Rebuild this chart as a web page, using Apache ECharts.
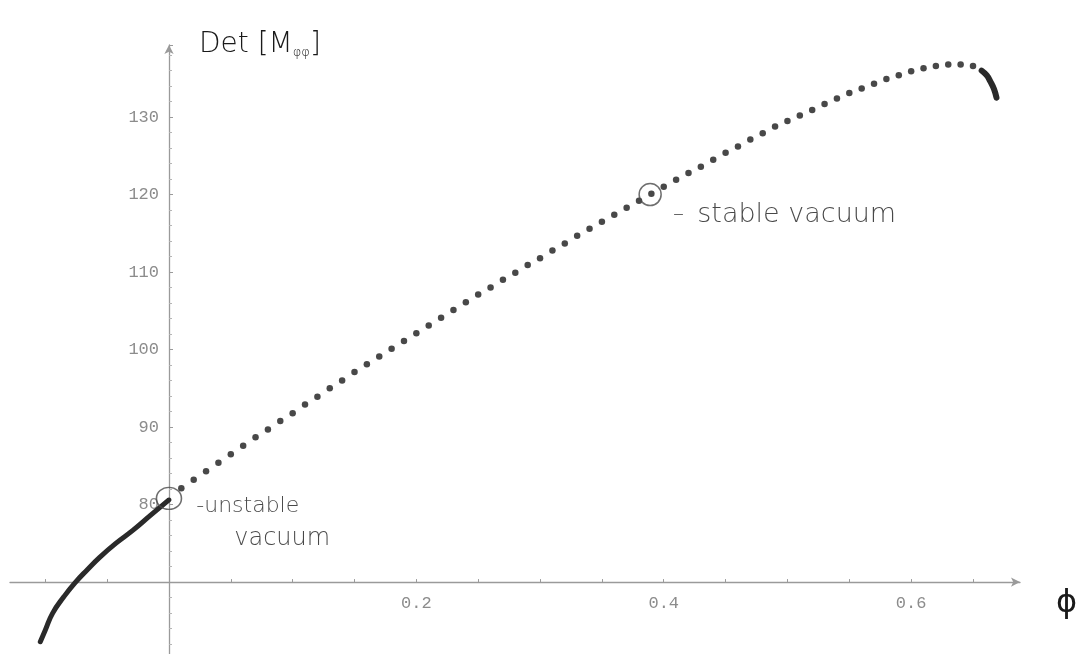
<!DOCTYPE html>
<html>
<head>
<meta charset="utf-8">
<script src="https://cdn.jsdelivr.net/npm/echarts@6/dist/echarts.min.js"></script>
<style>
  html, body { margin: 0; padding: 0; background: #fff; }
  #chart { width: 1080px; height: 654px; }
</style>
</head>
<body>
<div id="chart"></div>
<script>
// Determinant of the scalar mass matrix along the field direction phi.

// Solid branch left of the origin
const phiBranch = [-0.104, -0.100, -0.094, -0.085, -0.076, -0.066, -0.056, -0.043, -0.029, -0.015, 0.000];
const detBranch = [62.3, 63.8, 66.0, 68.1, 69.9, 71.6, 73.2, 75.0, 76.7, 78.6, 80.6];

// Sampled points of the dotted branch
const phiDots = [0.01, 0.02, 0.03, 0.04, 0.05, 0.06, 0.07, 0.08, 0.09, 0.10,
                 0.11, 0.12, 0.13, 0.14, 0.15, 0.16, 0.17, 0.18, 0.19, 0.20,
                 0.21, 0.22, 0.23, 0.24, 0.25, 0.26, 0.27, 0.28, 0.29, 0.30,
                 0.31, 0.32, 0.33, 0.34, 0.35, 0.36, 0.37, 0.38, 0.39, 0.40,
                 0.41, 0.42, 0.43, 0.44, 0.45, 0.46, 0.47, 0.48, 0.49, 0.50,
                 0.51, 0.52, 0.53, 0.54, 0.55, 0.56, 0.57, 0.58, 0.59, 0.60,
                 0.61, 0.62, 0.63, 0.64, 0.65];
const detDots = [82.1, 83.2, 84.3, 85.4, 86.5, 87.6, 88.7, 89.7, 90.8, 91.8,
                 92.9, 93.9, 95.0, 96.0, 97.1, 98.1, 99.1, 100.1, 101.1, 102.1,
                 103.1, 104.1, 105.1, 106.1, 107.1, 108.0, 109.0, 109.9, 110.9, 111.8,
                 112.8, 113.7, 114.7, 115.6, 116.5, 117.4, 118.3, 119.2, 120.1, 121.0,
                 121.9, 122.8, 123.6, 124.5, 125.4, 126.2, 127.1, 127.9, 128.8, 129.5,
                 130.2, 130.9, 131.7, 132.4, 133.1, 133.7, 134.3, 134.9, 135.4, 135.9,
                 136.3, 136.6, 136.8, 136.8, 136.6];

// Solid tail past the maximum
const phiTail = [0.657, 0.661, 0.664, 0.667, 0.669];
const detTail = [136.0, 135.4, 134.6, 133.6, 132.5];

// Vacua
const vacuumNames = ['unstable', 'stable'];
const vacuumPhi = [0.0, 0.389];
const vacuumDet = [80.8, 120.0];

// Tick labels
const xTickLabels = [0.2, 0.4, 0.6];
const xTickMarks = [-0.1, -0.05, 0.05, 0.1, 0.15, 0.2, 0.25, 0.3, 0.35, 0.4, 0.45, 0.5, 0.55, 0.6, 0.65];
const yTickLabels = [80, 90, 100, 110, 120, 130];

const zip = (a, b) => a.map((v, i) => [v, b[i]]);

const hand = { fontFamily: 'DejaVu Sans', fontWeight: 200, color: '#1a1a1a' };
const axisGrey = '#9a9a9a';
const monoLabel = { fontFamily: 'Liberation Mono', fontSize: 17, color: '#8c8c8c' };

// x range spans [-0.1285, 0.688]; the vertical axis sits at phi = 0,
// i.e. 0.1285 / 0.8165 of the 1010 px plot width in from the left edge.
const yAxisShift = 159;
// the horizontal axis sits at Det = 70, 10 units (7.75 px each) above Det = 60
const xAxisShift = 77.5;

const chart = echarts.init(document.getElementById('chart'), null, { renderer: 'canvas' });

chart.setOption({
  backgroundColor: '#ffffff',
  animation: false,
  grid: { left: 10, right: 60, top: 45, bottom: -5.6, containLabel: false, outerBoundsMode: 'none' },
  xAxis: {
    type: 'value',
    min: -0.1285,
    max: 0.688,
    offset: -xAxisShift,
    splitLine: { show: false },
    axisLine: {
      onZero: false,
      lineStyle: { color: axisGrey, width: 1.3 },
      symbol: ['none', 'arrow'],
      symbolSize: [7, 9]
    },
    axisTick: { show: true, customValues: xTickMarks, length: 3, inside: true, lineStyle: { color: axisGrey } },
    axisLabel: {
      customValues: xTickLabels,
      formatter: v => v.toFixed(1),
      margin: 13,
      ...monoLabel
    },
    name: 'ϕ',
    nameLocation: 'end',
    nameGap: 36,
    nameTextStyle: { ...hand, fontSize: 32, fontWeight: 400, verticalAlign: 'top', padding: [6, 0, 0, 0] }
  },
  yAxis: {
    type: 'value',
    min: 60,
    max: 139.3,
    interval: 10,
    offset: -yAxisShift,
    splitLine: { show: false },
    axisLine: {
      onZero: false,
      lineStyle: { color: axisGrey, width: 1.3 },
      symbol: ['none', 'arrow'],
      symbolSize: [7, 9]
    },
    axisTick: { show: true, length: 4, inside: true, lineStyle: { color: axisGrey } },
    minorTick: { show: true, splitNumber: 5, length: 3, lineStyle: { color: '#b5b5b5' } },
    axisLabel: {
      customValues: yTickLabels,
      margin: 10,
      ...monoLabel
    },
    name: 'Det [M{s|φφ}]',
    nameLocation: 'end',
    nameGap: 0,
    nameTextStyle: {
      ...hand, fontSize: 28, align: 'left', verticalAlign: 'middle', padding: [0, 0, 0, 30],
      rich: { s: { ...hand, fontSize: 13, verticalAlign: 'bottom', padding: [12, 0, 0, 0] } }
    }
  },
  series: [
    {
      name: 'branch',
      type: 'line',
      data: zip(phiBranch, detBranch),
      smooth: true,
      showSymbol: false,
      symbol: 'none',
      lineStyle: { color: '#2a2a2a', width: 5, cap: 'round' },
      z: 3
    },
    {
      name: 'dots',
      type: 'scatter',
      data: zip(phiDots, detDots),
      symbolSize: 6.5,
      itemStyle: { color: '#1a1a1a' },
      z: 3
    },
    {
      name: 'tail',
      type: 'line',
      data: zip(phiTail, detTail),
      smooth: true,
      showSymbol: false,
      symbol: 'none',
      lineStyle: { color: '#2a2a2a', width: 6, cap: 'round' },
      z: 3
    },
    {
      name: 'vacua',
      type: 'scatter',
      data: vacuumNames.map((n, i) => ({
        name: n,
        value: [vacuumPhi[i], vacuumDet[i]],
        symbolSize: i === 0 ? [25, 22] : [22, 22],
        label: i === 0
          ? { show: true, position: 'right', distance: 14, offset: [0, 24],
              formatter: '{d|-}{u|unstable}\n{v|vacuum}' }
          : { show: true, position: 'right', distance: 11, offset: [0, 20],
              formatter: '{d|–}    {t|stable vacuum}' }
      })),
      itemStyle: { color: 'rgba(0,0,0,0)', borderColor: '#4a4a4a', borderWidth: 1.5 },
      label: {
        rich: {
          d: { ...hand, fontSize: 22 },
          t: { ...hand, fontSize: 27, lineHeight: 32 },
          u: { ...hand, fontSize: 22, lineHeight: 32 },
          v: { ...hand, fontSize: 24, lineHeight: 32, padding: [0, 0, 0, 38] }
        }
      },
      z: 4
    }
  ]
});
</script>
</body>
</html>
